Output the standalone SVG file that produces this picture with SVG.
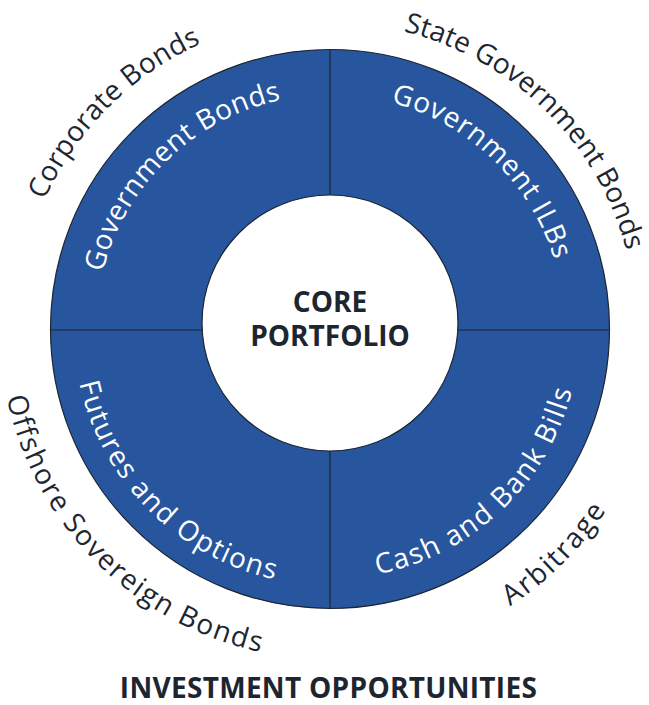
<svg xmlns="http://www.w3.org/2000/svg" xmlns:xlink="http://www.w3.org/1999/xlink" width="649" height="705" viewBox="0 0 649 705">
  <style>
    .ring { fill: #27569f; stroke: #1c2530; stroke-width: 1.2; }
    .core { fill: #ffffff; stroke: #1c2530; stroke-width: 1.2; }
    .divider { stroke: #1c2530; stroke-width: 1.2; fill: none; }
    .arc-in { font-family: "Open Sans", "Noto Sans", sans-serif; font-size: 28px; fill: #ffffff; }
    .arc-out { font-family: "Open Sans", "Noto Sans", sans-serif; font-size: 28px; fill: #1d2630; }
    .heading { font-family: "Open Sans", "Noto Sans", sans-serif; font-size: 28px; font-weight: bold; fill: #1d2630; text-anchor: middle; }
  </style>
  <defs>
    <!-- baselines for the curved labels; each arc is centred on its label's mid-angle -->
    <path id="p-gov" d="M150.7,479.4 A234,234 0 0 1 486.6,155.1"/>
    <path id="p-ilb" d="M172.8,154.4 A235,235 0 0 1 510.0,480.1"/>
    <path id="p-fut" d="M136.8,161.0 A256,256 0 0 0 498.0,522.2"/>
    <path id="p-cash" d="M161.1,513.3 A250,250 0 0 0 522.9,170.0"/>
    <path id="p-corp" d="M93.8,534.4 A313,313 0 0 1 535.4,92.8"/>
    <path id="p-state" d="M126.6,99.1 A307,307 0 0 1 563.4,528.4"/>
    <path id="p-off" d="M80.9,112.5 A330,330 0 0 0 546.5,578.1"/>
    <path id="p-arb" d="M113.5,578.1 A330,330 0 0 0 579.1,112.5"/>
  </defs>

  <!-- outer ring and centre disc -->
  <g id="ring">
    <circle class="ring" cx="330" cy="329" r="279.5"/>
  </g>
  <g id="dividers">
    <line class="divider" x1="330" y1="49.5" x2="330" y2="195"/>
    <line class="divider" x1="330" y1="451" x2="330" y2="608.5"/>
    <line class="divider" x1="50.5" y1="330" x2="202.2" y2="330"/>
    <line class="divider" x1="457.8" y1="330" x2="609.5" y2="330"/>
  </g>
  <g id="core">
    <circle class="core" cx="330" cy="323" r="128"/>
    <text class="heading" x="330" y="312">CORE</text>
    <text class="heading" x="330" y="346">PORTFOLIO</text>
  </g>

  <!-- ring segments -->
  <g id="government-bonds">
    <text class="arc-in" letter-spacing="0.5"><textPath xlink:href="#p-gov" href="#p-gov" startOffset="50%" text-anchor="middle">Government Bonds</textPath></text>
  </g>
  <g id="government-ilbs">
    <text class="arc-in" letter-spacing="0.8"><textPath xlink:href="#p-ilb" href="#p-ilb" startOffset="50%" text-anchor="middle">Government ILBs</textPath></text>
  </g>
  <g id="futures-options">
    <text class="arc-in" letter-spacing="1.4"><textPath xlink:href="#p-fut" href="#p-fut" startOffset="50%" text-anchor="middle">Futures and Options</textPath></text>
  </g>
  <g id="cash-bills">
    <text class="arc-in" letter-spacing="1.6"><textPath xlink:href="#p-cash" href="#p-cash" startOffset="50%" text-anchor="middle">Cash and Bank Bills</textPath></text>
  </g>

  <!-- opportunities around the ring -->
  <g id="corporate-bonds">
    <text class="arc-out" letter-spacing="0.3"><textPath xlink:href="#p-corp" href="#p-corp" startOffset="50%" text-anchor="middle">Corporate Bonds</textPath></text>
  </g>
  <g id="state-government-bonds">
    <text class="arc-out"><textPath xlink:href="#p-state" href="#p-state" startOffset="50%" text-anchor="middle">State Government Bonds</textPath></text>
  </g>
  <g id="offshore-sovereign-bonds">
    <text class="arc-out" letter-spacing="1.7"><textPath xlink:href="#p-off" href="#p-off" startOffset="50%" text-anchor="middle">Offshore Sovereign Bonds</textPath></text>
  </g>
  <g id="arbitrage">
    <text class="arc-out" letter-spacing="1.9"><textPath xlink:href="#p-arb" href="#p-arb" startOffset="50%" text-anchor="middle">Arbitrage</textPath></text>
  </g>

  <g id="title">
    <text class="heading" x="328.5" y="698" letter-spacing="0.3">INVESTMENT OPPORTUNITIES</text>
  </g>
</svg>
